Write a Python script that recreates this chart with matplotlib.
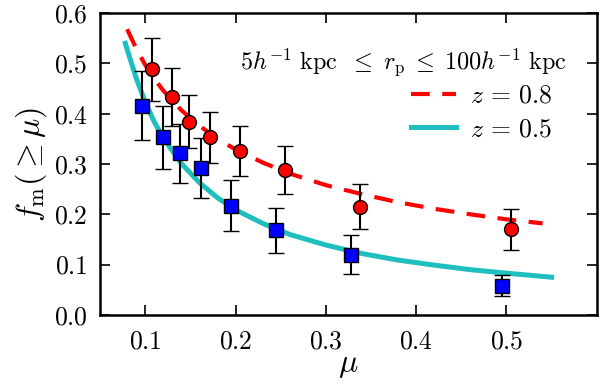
import matplotlib
matplotlib.use("Agg")
import matplotlib.pyplot as plt
import numpy as np

plt.rcParams["font.family"] = "serif"
plt.rcParams["font.serif"] = ["cmr10", "DejaVu Serif"]
plt.rcParams["mathtext.fontset"] = "cm"
plt.rcParams["axes.formatter.use_mathtext"] = True

# --- puntos medidos -----------------------------------------------------
mu_z08 = [0.107, 0.130, 0.148, 0.172, 0.205, 0.255, 0.338, 0.505]
f_z08 = [0.488, 0.433, 0.384, 0.353, 0.326, 0.288, 0.215, 0.170]
err_z08 = [0.062, 0.057, 0.053, 0.051, 0.050, 0.048, 0.045, 0.040]

mu_z05 = [0.096, 0.120, 0.138, 0.162, 0.195, 0.245, 0.328, 0.495]
f_z05 = [0.416, 0.353, 0.321, 0.292, 0.217, 0.168, 0.120, 0.058]
err_z05 = [0.068, 0.062, 0.059, 0.059, 0.051, 0.045, 0.039, 0.021]

# --- curvas -------------------------------------------------------------
mu_curva_08 = [0.08, 0.09, 0.10, 0.11, 0.12, 0.14, 0.16, 0.18, 0.20, 0.23,
               0.26, 0.30, 0.34, 0.38, 0.42, 0.46, 0.50, 0.54]
f_curva_08 = [0.568, 0.530, 0.497, 0.470, 0.446, 0.407, 0.376, 0.350, 0.329,
              0.303, 0.281, 0.258, 0.240, 0.224, 0.211, 0.200, 0.190, 0.182]

mu_curva_05 = [0.078, 0.08, 0.09, 0.10, 0.11, 0.12, 0.14, 0.16, 0.18, 0.20,
               0.23, 0.26, 0.30, 0.34, 0.38, 0.42, 0.46, 0.50, 0.55]
f_curva_05 = [0.540, 0.528, 0.471, 0.423, 0.384, 0.352, 0.301, 0.263, 0.233,
              0.209, 0.182, 0.160, 0.139, 0.122, 0.109, 0.099, 0.090, 0.083,
              0.075]

fig = plt.figure(figsize=(6.0, 3.85), dpi=100)
ax = fig.add_axes([0.1667, 0.182, 0.828, 0.784])

ax.plot(mu_curva_08, f_curva_08, color="#ff0000", ls=(0, (4.5, 3.0)), lw=3.0,
        label=r"$z\,=\,0.8$", zorder=2)
ax.plot(mu_curva_05, f_curva_05, color="#1fbfbf", ls="-", lw=3.6,
        label=r"$z\,=\,0.5$", zorder=2)

ax.errorbar(mu_z08, f_z08, yerr=err_z08, fmt="o", ms=10, mfc="#ff0000",
            mec="k", mew=1.0, ecolor="k", elinewidth=1.5, capsize=5.5,
            capthick=1.5, zorder=3)
ax.errorbar(mu_z05, f_z05, yerr=err_z05, fmt="s", ms=10, mfc="#0000ff",
            mec="k", mew=1.0, ecolor="k", elinewidth=1.5, capsize=5.5,
            capthick=1.5, zorder=3)

ax.set_xlim(0.05, 0.6)
ax.set_ylim(0.0, 0.6)
ax.set_xticks([0.1, 0.2, 0.3, 0.4, 0.5])
ax.set_yticks([0.0, 0.1, 0.2, 0.3, 0.4, 0.5, 0.6])
ax.tick_params(direction="in", top=True, right=True, length=7, width=1.2,
               labelsize=18.5)
ax.tick_params(axis="x", pad=11)
ax.tick_params(axis="y", pad=9)
for s in ax.spines.values():
    s.set_linewidth(1.8)

ax.set_xlabel(r"$\mu$", fontsize=23, labelpad=-1)
ax.set_ylabel(r"$f_{\rm m}(\geq \mu)$", fontsize=23, labelpad=3)

ax.text(0.94, 0.835,
        r"$5h^{-1}\ \mathrm{kpc}\ \;\leq\; r_{\rm p} \;\leq\; 100h^{-1}\ \mathrm{kpc}$",
        transform=ax.transAxes, ha="right", va="center", fontsize=17.5)
ax.legend(loc="upper right", bbox_to_anchor=(0.911, 0.765), frameon=False,
          fontsize=18.5, handlelength=1.75, handletextpad=0.55,
          labelspacing=0.38, borderaxespad=0, borderpad=0)

fig.savefig("out.png", dpi=100)
